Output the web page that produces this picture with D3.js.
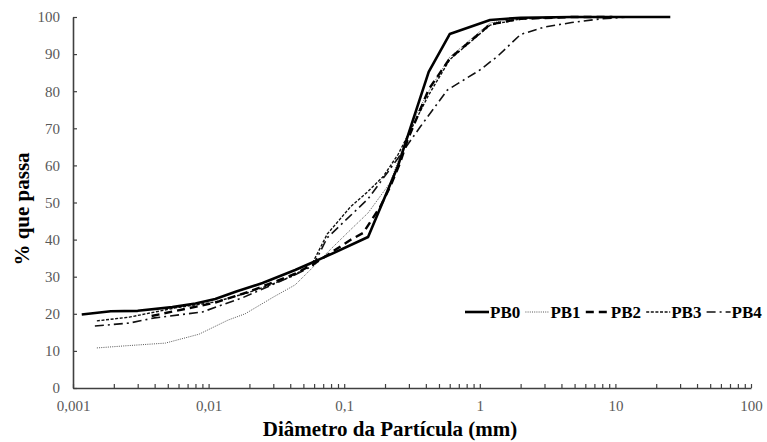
<!DOCTYPE html>
<html><head><meta charset="utf-8">
<script src="https://cdn.jsdelivr.net/npm/d3@7"></script>
<style>
html,body{margin:0;padding:0;background:#fff;}
svg{display:block;}
</style></head>
<body>
<svg id="chart" width="767" height="442"></svg>
<script>
// ---- data ----
const seriesNames = ["PB0", "PB1", "PB2", "PB3", "PB4"];

const pb0Diam = [0.00116, 0.0019, 0.003, 0.0054, 0.008, 0.0112, 0.016, 0.025, 0.0435, 0.075, 0.15, 0.25, 0.42, 0.6, 1.19, 2.0, 4.76, 9.5, 19.1, 25.4];
const pb0Pass = [19.8, 20.7, 20.8, 21.8, 22.8, 24.0, 26.0, 28.3, 31.8, 35.6, 40.7, 60.0, 85.2, 95.4, 99.2, 99.8, 100, 100, 100, 100];

const pb1Diam = [0.0015, 0.0025, 0.0048, 0.0085, 0.0139, 0.0186, 0.03, 0.0435, 0.059, 0.075, 0.111, 0.15, 0.218, 0.323, 0.42, 0.6, 1.19, 2.0, 4.76, 9.5];
const pb1Pass = [10.8, 11.4, 12.1, 14.5, 18.3, 20.0, 24.5, 27.8, 32.6, 36.5, 42.6, 47.2, 55.3, 72.2, 80.0, 89.2, 98.4, 99.6, 100, 100];

const pb2Diam = [0.0038, 0.0054, 0.0112, 0.02, 0.0435, 0.06, 0.075, 0.111, 0.138, 0.184, 0.218, 0.258, 0.293, 0.42, 0.6, 1.19, 2.0, 4.76, 9.5];
const pb2Pass = [19.4, 20.6, 23.0, 26.0, 30.8, 33.5, 35.8, 39.9, 41.8, 48.8, 54.2, 60.6, 66.8, 80.5, 88.8, 98.0, 99.5, 100, 100];

const pb3Diam = [0.0015, 0.0026, 0.0057, 0.0112, 0.02, 0.031, 0.0435, 0.059, 0.075, 0.111, 0.15, 0.194, 0.25, 0.42, 0.6, 1.19, 2.0, 4.76, 9.5];
const pb3Pass = [18.1, 19.1, 21.6, 23.2, 25.8, 28.3, 30.5, 34.0, 41.5, 48.8, 53.0, 57.0, 63.0, 79.0, 88.5, 97.8, 99.5, 100, 100];

const pb4Diam = [0.00145, 0.0026, 0.004, 0.009, 0.0177, 0.0435, 0.059, 0.075, 0.15, 0.25, 0.364, 0.576, 1.0, 1.36, 2.0, 3.0, 4.76, 7.75, 12.7];
const pb4Pass = [16.7, 17.5, 18.9, 20.5, 24.3, 30.5, 33.0, 40.5, 51.0, 62.0, 70.4, 80.3, 85.7, 89.5, 95.3, 97.3, 98.5, 99.5, 100];

const xTickLabels = ["0,001", "0,01", "0,1", "1", "10", "100"];
const xTickDecades = [0.001, 0.01, 0.1, 1, 10, 100];
const yTicks = [0, 10, 20, 30, 40, 50, 60, 70, 80, 90, 100];

const xTitle = "Diâmetro da Partícula (mm)";
const yTitle = "% que passa";

// ---- build series table ----
const diams = [pb0Diam, pb1Diam, pb2Diam, pb3Diam, pb4Diam];
const passes = [pb0Pass, pb1Pass, pb2Pass, pb3Pass, pb4Pass];
const series = seriesNames.map((n, i) => ({
  name: n,
  points: diams[i].map((d, j) => ({d: d, v: passes[i][j]}))
}));

// styles
const styles = {
  PB0: {stroke: "#000", width: 2.6, dash: null},
  PB1: {stroke: "#555", width: 1, dash: "1,1.2"},
  PB2: {stroke: "#000", width: 2.4, dash: "8,5"},
  PB3: {stroke: "#111", width: 1.4, dash: "3,1.6"},
  PB4: {stroke: "#111", width: 1.6, dash: "9,4,2,4"}
};

const svg = d3.select("#chart");
const serif = "'Liberation Serif', 'Times New Roman', serif";

const x = d3.scaleLog().domain([0.001, 100]).range([73, 751]);
const y = d3.scaleLinear().domain([0, 100]).range([388, 17]);

// minor + major tick values
const xTickVals = [];
for (let e = -3; e <= 1; e++) {
  for (let m = 1; m <= 9; m++) xTickVals.push(m * Math.pow(10, e));
}
xTickVals.push(100);

const labelMap = new Map(xTickDecades.map((d, i) => [d.toPrecision(6), xTickLabels[i]]));

const xAxis = d3.axisBottom(x)
  .tickValues(xTickVals)
  .tickSizeInner(-4).tickSizeOuter(0)
  .tickFormat(d => labelMap.get(d.toPrecision(6)) || "");

const gx = svg.append("g").attr("transform", "translate(0,388)").call(xAxis);
gx.select(".domain").attr("stroke", "#404040").attr("stroke-width", 1.6);
gx.selectAll(".tick line").attr("stroke", "#404040").attr("stroke-width", 1.2);
gx.selectAll(".tick text")
  .attr("y", 0).attr("dy", "23px")
  .attr("font-family", serif).attr("font-size", "15px").attr("fill", "#595959");

const yAxis = d3.axisLeft(y).tickValues(yTicks).tickSizeInner(-4).tickSizeOuter(0).tickPadding(13);
const gy = svg.append("g").attr("transform", "translate(73,0)").call(yAxis);
gy.select(".domain").attr("stroke", "#404040").attr("stroke-width", 1.6);
gy.selectAll(".tick line").attr("stroke", "#404040").attr("stroke-width", 1.2);
gy.selectAll(".tick text")
  .attr("font-family", serif).attr("font-size", "15px").attr("fill", "#595959");

// lines
const line = d3.line().x(p => x(p.d)).y(p => y(p.v)).curve(d3.curveLinear);
const order = ["PB4", "PB3", "PB1", "PB2", "PB0"];
order.forEach(n => {
  const s = series.find(t => t.name === n);
  const st = styles[n];
  svg.append("path")
    .datum(s.points)
    .attr("d", line)
    .attr("fill", "none")
    .attr("stroke", st.stroke)
    .attr("stroke-width", st.width)
    .attr("stroke-dasharray", st.dash)
    .attr("stroke-linejoin", "round");
});

// legend
const lg = svg.append("g");
series.forEach((s, i) => {
  const st = styles[s.name];
  const x0 = 465 + i * 60.4;
  lg.append("line")
    .attr("x1", x0).attr("x2", x0 + 24)
    .attr("y1", 312).attr("y2", 312)
    .attr("stroke", st.stroke).attr("stroke-width", st.width)
    .attr("stroke-dasharray", st.dash);
  lg.append("text")
    .attr("x", x0 + 25).attr("y", 318)
    .attr("font-family", serif).attr("font-weight", "bold")
    .attr("font-size", "17px").attr("fill", "#000")
    .text(s.name);
});

// axis titles
svg.append("text")
  .attr("x", 390).attr("y", 436)
  .attr("text-anchor", "middle")
  .attr("font-family", serif).attr("font-weight", "bold").attr("font-size", "21px")
  .text(xTitle);

svg.append("text")
  .attr("transform", "translate(29,209) rotate(-90)")
  .attr("text-anchor", "middle")
  .attr("font-family", serif).attr("font-weight", "bold").attr("font-size", "21px")
  .text(yTitle);
</script>
</body></html>
